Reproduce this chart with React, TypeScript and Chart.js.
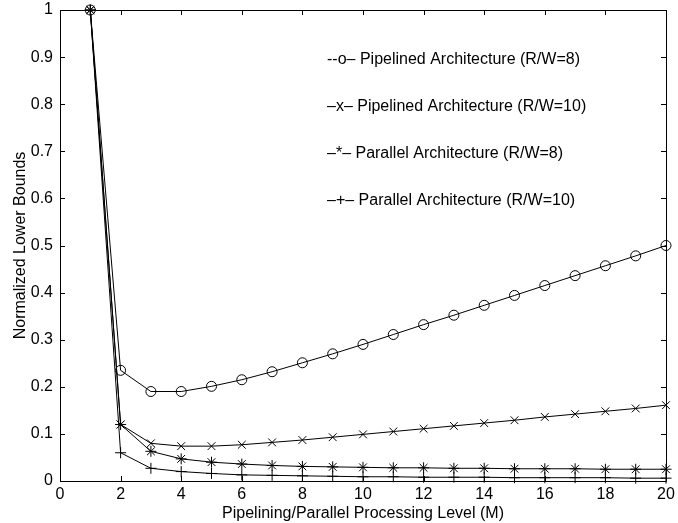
import React, { useEffect, useRef } from "react";
import { Chart, registerables } from "chart.js";

Chart.register(...registerables);

const levels = [1, 2, 3, 4, 5, 6, 7, 8, 9, 10, 11, 12, 13, 14, 15, 16, 17, 18, 19, 20];
const pipelined8 = [1.0, 0.235, 0.19, 0.19, 0.201, 0.215, 0.232, 0.251, 0.27, 0.29, 0.311, 0.332, 0.352, 0.373, 0.394, 0.415, 0.436, 0.457, 0.478, 0.5];
const pipelined10 = [1.0, 0.12, 0.08, 0.074, 0.074, 0.077, 0.082, 0.087, 0.093, 0.099, 0.105, 0.111, 0.117, 0.123, 0.129, 0.136, 0.142, 0.148, 0.154, 0.161];
const parallel8 = [1.0, 0.12, 0.063, 0.047, 0.04, 0.036, 0.033, 0.031, 0.03, 0.029, 0.028, 0.028, 0.027, 0.027, 0.026, 0.026, 0.026, 0.025, 0.025, 0.025];
const parallel10 = [1.0, 0.06, 0.027, 0.02, 0.016, 0.013, 0.012, 0.011, 0.01, 0.009, 0.009, 0.008, 0.008, 0.008, 0.007, 0.007, 0.007, 0.007, 0.006, 0.006];
const legendLabels = [
  "--o– Pipelined Architecture (R/W=8)",
  "–x– Pipelined Architecture (R/W=10)",
  "–*– Parallel Architecture (R/W=8)",
  "–+– Parallel Architecture (R/W=10)",
];
const xTicks = [0, 2, 4, 6, 8, 10, 12, 14, 16, 18, 20];
const yTicks = [0, 0.1, 0.2, 0.3, 0.4, 0.5, 0.6, 0.7, 0.8, 0.9, 1];

const FONT = "'Liberation Sans', Arial, Helvetica, sans-serif";

const framePlugin = {
  id: "frame",
  afterDraw(chart: any) {
    const { ctx, chartArea } = chart;
    const { left, right, top, bottom } = chartArea;
    const xs = chart.scales.x;
    const ys = chart.scales.y;
    ctx.save();
    ctx.strokeStyle = "#000";
    ctx.lineWidth = 1;
    ctx.beginPath();
    ctx.rect(Math.round(left) + 0.5, Math.round(top) + 0.5, Math.round(right - left), Math.round(bottom - top));
    ctx.stroke();
    const t = 5;
    ctx.beginPath();
    xTicks.forEach((v) => {
      const px = Math.round(xs.getPixelForValue(v)) + 0.5;
      ctx.moveTo(px, bottom);
      ctx.lineTo(px, bottom - t);
      ctx.moveTo(px, top);
      ctx.lineTo(px, top + t);
    });
    yTicks.forEach((v) => {
      const py = Math.round(ys.getPixelForValue(v)) + 0.5;
      ctx.moveTo(left, py);
      ctx.lineTo(left + t, py);
      ctx.moveTo(right, py);
      ctx.lineTo(right - t, py);
    });
    ctx.stroke();
    ctx.fillStyle = "#000";
    ctx.font = "16px " + FONT;
    ctx.textBaseline = "middle";
    ctx.textAlign = "left";
    const ly = [60, 107, 154, 201];
    legendLabels.forEach((s, i) => ctx.fillText(s, 327, ly[i]));
    ctx.restore();
  },
};

export default function App() {
  const ref = useRef<HTMLCanvasElement>(null);
  useEffect(() => {
    if (!ref.current) return;
    const mk = (vals: number[]) => levels.map((x, i) => ({ x, y: vals[i] }));
    const base = {
      borderColor: "#000",
      backgroundColor: "rgba(0,0,0,0)",
      pointBorderColor: "#000",
      pointBackgroundColor: "rgba(0,0,0,0)",
      borderWidth: 1,
      pointBorderWidth: 1,
      clip: false as any,
      tension: 0,
    };
    const chart = new Chart(ref.current, {
      type: "line",
      data: {
        datasets: [
          { ...base, label: legendLabels[0], data: mk(pipelined8), pointStyle: "circle", pointRadius: 5 },
          { ...base, label: legendLabels[1], data: mk(pipelined10), pointStyle: "crossRot", pointRadius: 5.5 },
          { ...base, label: legendLabels[2], data: mk(parallel8), pointStyle: "star", pointRadius: 5.5 },
          { ...base, label: legendLabels[3], data: mk(parallel10), pointStyle: "cross", pointRadius: 5.5 },
        ],
      },
      options: {
        animation: false,
        responsive: false,
        maintainAspectRatio: false,
        layout: { padding: { top: 10, right: 12, left: 0, bottom: 0 } },
        plugins: { legend: { display: false }, tooltip: { enabled: false } },
        scales: {
          x: {
            type: "linear",
            min: 0,
            max: 20,
            afterBuildTicks: (s: any) => { s.ticks = xTicks.map((v) => ({ value: v })); },
            afterFit: (s: any) => { s.height = 42; s.paddingLeft = 0; s.paddingRight = 0; },
            grid: { display: false, drawTicks: false },
            border: { display: false },
            ticks: { color: "#000", font: { family: FONT, size: 16 }, padding: 4, maxRotation: 0, autoSkip: false },
            title: { display: true, text: "Pipelining/Parallel Processing Level (M)", color: "#000", font: { family: FONT, size: 16 }, padding: { top: 0, bottom: 0 } },
          },
          y: {
            type: "linear",
            min: 0,
            max: 1,
            afterBuildTicks: (s: any) => { s.ticks = yTicks.map((v) => ({ value: v })); },
            afterFit: (s: any) => { s.width = 60; s.paddingTop = 0; s.paddingBottom = 0; },
            grid: { display: false, drawTicks: false },
            border: { display: false },
            ticks: {
              color: "#000",
              font: { family: FONT, size: 16 },
              padding: 7,
              autoSkip: false,
              callback: (v: any) => String(Number(Number(v).toFixed(1))),
            },
            title: { display: true, text: "Normalized Lower Bounds", color: "#000", font: { family: FONT, size: 16 }, padding: { top: 11, bottom: 0 } },
          },
        },
      },
      plugins: [framePlugin],
    });
    return () => chart.destroy();
  }, []);
  return (
    <div style={{ position: "fixed", left: 0, top: 0, width: 678, height: 523, background: "#fff" }}>
      <canvas ref={ref} width={678} height={523} style={{ width: 678, height: 523 }} />
    </div>
  );
}
